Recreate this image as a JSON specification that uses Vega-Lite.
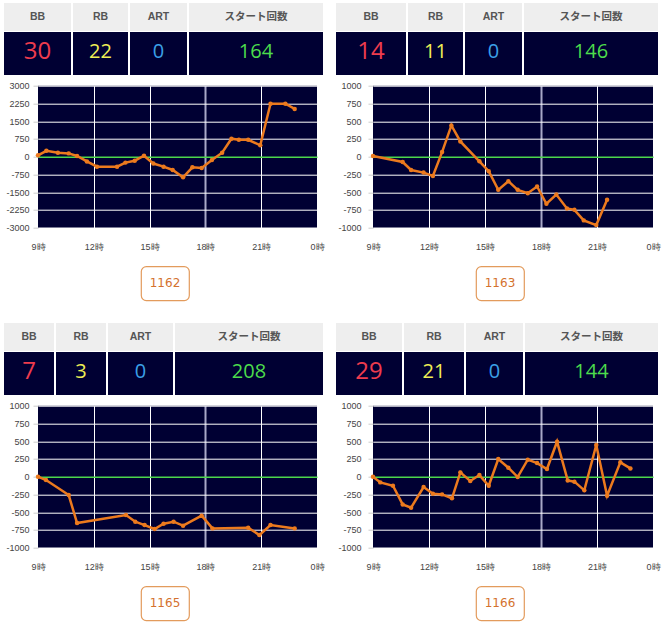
{
  "$schema": "https://vega.github.io/schema/vega-lite/v6.json",
  "padding": {"left": 4, "top": 3, "right": 2, "bottom": 2},
  "background": "#ffffff",
  "datasets": {
    "s1": [{"BB": 30, "RB": 22, "ART": 0, "start": 164, "no": "1162"}],
    "s2": [{"BB": 14, "RB": 11, "ART": 0, "start": 146, "no": "1163"}],
    "s3": [{"BB": 7, "RB": 3, "ART": 0, "start": 208, "no": "1165"}],
    "s4": [{"BB": 29, "RB": 21, "ART": 0, "start": 144, "no": "1166"}],
    "p1": [{"h":9,"v":60},{"h":9.45,"v":250},{"h":10.07,"v":170},{"h":10.65,"v":140},{"h":11.1,"v":30},{"h":11.63,"v":-200},{"h":12.17,"v":-420},{"h":13.25,"v":-420},{"h":13.7,"v":-250},{"h":14.2,"v":-170},{"h":14.7,"v":40},{"h":15.2,"v":-290},{"h":15.75,"v":-420},{"h":16.24,"v":-560},{"h":16.8,"v":-870},{"h":17.3,"v":-450},{"h":17.8,"v":-480},{"h":18.35,"v":-140},{"h":18.9,"v":170},{"h":19.4,"v":760},{"h":19.8,"v":715},{"h":20.3,"v":715},{"h":20.95,"v":480},{"h":21.5,"v":2240},{"h":22.3,"v":2240},{"h":22.8,"v":2020}],
    "p2": [{"h":9,"v":10},{"h":10.59,"v":-75},{"h":11.04,"v":-187},{"h":11.71,"v":-224},{"h":12.21,"v":-271},{"h":12.7,"v":65},{"h":13.2,"v":440},{"h":13.68,"v":215},{"h":14.7,"v":-65},{"h":15.2,"v":-205},{"h":15.71,"v":-467},{"h":16.25,"v":-345},{"h":16.75,"v":-467},{"h":17.29,"v":-514},{"h":17.79,"v":-420},{"h":18.29,"v":-663},{"h":18.82,"v":-533},{"h":19.39,"v":-729},{"h":19.79,"v":-748},{"h":20.29,"v":-897},{"h":20.96,"v":-963},{"h":21.54,"v":-607}],
    "p3": [{"h":9,"v":0},{"h":9.43,"v":-47},{"h":10.65,"v":-258},{"h":11.1,"v":-653},{"h":13.73,"v":-540},{"h":14.23,"v":-634},{"h":14.73,"v":-681},{"h":15.27,"v":-737},{"h":15.75,"v":-662},{"h":16.29,"v":-634},{"h":16.8,"v":-690},{"h":17.8,"v":-549},{"h":18.38,"v":-728},{"h":20.3,"v":-718},{"h":20.9,"v":-822},{"h":21.5,"v":-681},{"h":22.8,"v":-728}],
    "p4": [{"h":9,"v":0},{"h":9.39,"v":-80},{"h":10.07,"v":-127},{"h":10.59,"v":-390},{"h":11.04,"v":-437},{"h":11.71,"v":-146},{"h":12.21,"v":-239},{"h":12.7,"v":-249},{"h":13.23,"v":-305},{"h":13.68,"v":61},{"h":14.21,"v":-61},{"h":14.7,"v":23},{"h":15.2,"v":-127},{"h":15.71,"v":249},{"h":16.25,"v":127},{"h":16.75,"v":-5},{"h":17.29,"v":240},{"h":17.79,"v":192},{"h":18.32,"v":108},{"h":18.86,"v":493},{"h":19.43,"v":-52},{"h":19.79,"v":-70},{"h":20.32,"v":-192},{"h":20.96,"v":446},{"h":21.54,"v":-268},{"h":22.25,"v":202},{"h":22.79,"v":117}]
  },
  "spacing": 11,
  "hconcat": [
    {
      "spacing": 22,
      "vconcat": [
        {
          "spacing": 13.3,
          "vconcat": [
            {
              "spacing": 6.7,
              "vconcat": [
                {
                  "spacing": 1,
                  "vconcat": [
                    {"spacing": 2, "hconcat": [
                      {"width": 67, "height": 28, "view": {"fill": "#eeeeee"}, "data": {"values": [{}]}, "mark": {"type": "text", "text": "BB", "font": "Liberation Sans", "fontSize": 10.5, "fontWeight": "bold", "color": "#555555"}, "encoding": {}},
                      {"width": 55, "height": 28, "view": {"fill": "#eeeeee"}, "data": {"values": [{}]}, "mark": {"type": "text", "text": "RB", "font": "Liberation Sans", "fontSize": 10.5, "fontWeight": "bold", "color": "#555555"}, "encoding": {}},
                      {"width": 57, "height": 28, "view": {"fill": "#eeeeee"}, "data": {"values": [{}]}, "mark": {"type": "text", "text": "ART", "font": "Liberation Sans", "fontSize": 10.5, "fontWeight": "bold", "color": "#555555"}, "encoding": {}},
                      {"width": 134, "height": 28, "view": {"fill": "#eeeeee"}, "data": {"values": [{}]}, "mark": {"type": "text", "text": "スタート回数", "font": "Noto Sans CJK JP", "fontSize": 10.5, "fontWeight": "bold", "color": "#555555"}, "encoding": {}}
                    ]},
                    {"spacing": 2, "hconcat": [
                      {"width": 67, "height": 43, "view": {"fill": "#000033"}, "data": {"name": "s1"}, "mark": {"type": "text", "font": "Open Sans", "fontSize": 24, "color": "#ee3c4e", "dy": -1.5}, "encoding": {"text": {"field": "BB", "type": "nominal"}}},
                      {"width": 55, "height": 43, "view": {"fill": "#000033"}, "data": {"name": "s1"}, "mark": {"type": "text", "font": "Open Sans", "fontSize": 20, "color": "#eeee55", "dy": -1.5}, "encoding": {"text": {"field": "RB", "type": "nominal"}}},
                      {"width": 57, "height": 43, "view": {"fill": "#000033"}, "data": {"name": "s1"}, "mark": {"type": "text", "font": "Open Sans", "fontSize": 20, "color": "#3ba0e8", "dy": -1.5}, "encoding": {"text": {"field": "ART", "type": "nominal"}}},
                      {"width": 134, "height": 43, "view": {"fill": "#000033"}, "data": {"name": "s1"}, "mark": {"type": "text", "font": "Open Sans", "fontSize": 20, "color": "#4cdc4c", "dy": -1.5}, "encoding": {"text": {"field": "start", "type": "nominal"}}}
                    ]}
                  ]
                },
                {"spacing": 0, "hconcat": [
                  {"width": 0.01, "height": 1, "data": {"values": []}, "mark": "text", "encoding": {}},
                  {
                    "width": 279, "height": 142,
                    "view": {"fill": "#000033"},
                    "data": {"name": "p1"},
                    "mark": {"type": "line", "color": "#ec7a1e", "strokeWidth": 2.5, "point": {"filled": true, "size": 20, "color": "#ec7a1e"}},
                    "encoding": {
                      "x": {"field": "h", "type": "quantitative", "scale": {"domain": [9, 24], "nice": false, "zero": false},
                        "axis": {"title": null, "values": [9, 12, 15, 18, 21, 24], "labelExpr": "(datum.value % 24) + '時'", "ticks": false, "tickSize": 0, "labelPadding": 15,
                          "gridColor": {"condition": {"test": "datum.value === 18", "value": "#a8a8c8"}, "value": "#ffffff"},
                          "gridWidth": {"condition": {"test": "datum.value === 18", "value": 2}, "value": 1},
                          "gridOpacity": {"condition": {"test": "datum.value === 9 || datum.value === 24", "value": 0}, "value": 1}}},
                      "y": {"field": "v", "type": "quantitative", "scale": {"domain": [-3000, 3000], "nice": false, "zero": false},
                        "axis": {"title": null, "values": [-3000, -2250, -1500, -750, 0, 750, 1500, 2250, 3000], "labelExpr": "'' + datum.value", "tickSize": 5, "tickColor": "#cccccc", "labelPadding": 4,
                          "gridColor": {"condition": {"test": "datum.value === 0", "value": "#4cd64c"}, "value": "#ffffff"},
                          "gridWidth": {"condition": {"test": "datum.value === 0", "value": 1.5}, "value": 1}}}
                    }
                  }
                ]}
              ]
            },
            {"spacing": 0, "hconcat": [
              {"width": 135.5, "height": 34, "data": {"values": []}, "mark": "text", "encoding": {}},
              {"width": 48, "height": 34, "view": {"fill": "#ffffff", "stroke": "#e39b5c", "strokeWidth": 1.2, "cornerRadius": 5}, "data": {"name": "s1"}, "mark": {"type": "text", "font": "DejaVu Sans", "fontSize": 12, "color": "#d4712e"}, "encoding": {"text": {"field": "no", "type": "nominal"}}}
            ]}
          ]
        },
        {
          "spacing": 13.3,
          "vconcat": [
            {
              "spacing": 6.7,
              "vconcat": [
                {
                  "spacing": 1,
                  "vconcat": [
                    {"spacing": 2, "hconcat": [
                      {"width": 50, "height": 28, "view": {"fill": "#eeeeee"}, "data": {"values": [{}]}, "mark": {"type": "text", "text": "BB", "font": "Liberation Sans", "fontSize": 10.5, "fontWeight": "bold", "color": "#555555"}, "encoding": {}},
                      {"width": 50, "height": 28, "view": {"fill": "#eeeeee"}, "data": {"values": [{}]}, "mark": {"type": "text", "text": "RB", "font": "Liberation Sans", "fontSize": 10.5, "fontWeight": "bold", "color": "#555555"}, "encoding": {}},
                      {"width": 65, "height": 28, "view": {"fill": "#eeeeee"}, "data": {"values": [{}]}, "mark": {"type": "text", "text": "ART", "font": "Liberation Sans", "fontSize": 10.5, "fontWeight": "bold", "color": "#555555"}, "encoding": {}},
                      {"width": 148, "height": 28, "view": {"fill": "#eeeeee"}, "data": {"values": [{}]}, "mark": {"type": "text", "text": "スタート回数", "font": "Noto Sans CJK JP", "fontSize": 10.5, "fontWeight": "bold", "color": "#555555"}, "encoding": {}}
                    ]},
                    {"spacing": 2, "hconcat": [
                      {"width": 50, "height": 43, "view": {"fill": "#000033"}, "data": {"name": "s3"}, "mark": {"type": "text", "font": "Open Sans", "fontSize": 24, "color": "#ee3c4e", "dy": -1.5}, "encoding": {"text": {"field": "BB", "type": "nominal"}}},
                      {"width": 50, "height": 43, "view": {"fill": "#000033"}, "data": {"name": "s3"}, "mark": {"type": "text", "font": "Open Sans", "fontSize": 20, "color": "#eeee55", "dy": -1.5}, "encoding": {"text": {"field": "RB", "type": "nominal"}}},
                      {"width": 65, "height": 43, "view": {"fill": "#000033"}, "data": {"name": "s3"}, "mark": {"type": "text", "font": "Open Sans", "fontSize": 20, "color": "#3ba0e8", "dy": -1.5}, "encoding": {"text": {"field": "ART", "type": "nominal"}}},
                      {"width": 148, "height": 43, "view": {"fill": "#000033"}, "data": {"name": "s3"}, "mark": {"type": "text", "font": "Open Sans", "fontSize": 20, "color": "#4cdc4c", "dy": -1.5}, "encoding": {"text": {"field": "start", "type": "nominal"}}}
                    ]}
                  ]
                },
                {"spacing": 0, "hconcat": [
                  {"width": 0.01, "height": 1, "data": {"values": []}, "mark": "text", "encoding": {}},
                  {
                    "width": 279, "height": 142,
                    "view": {"fill": "#000033"},
                    "data": {"name": "p3"},
                    "mark": {"type": "line", "color": "#ec7a1e", "strokeWidth": 2.5, "point": {"filled": true, "size": 20, "color": "#ec7a1e"}},
                    "encoding": {
                      "x": {"field": "h", "type": "quantitative", "scale": {"domain": [9, 24], "nice": false, "zero": false},
                        "axis": {"title": null, "values": [9, 12, 15, 18, 21, 24], "labelExpr": "(datum.value % 24) + '時'", "ticks": false, "tickSize": 0, "labelPadding": 15,
                          "gridColor": {"condition": {"test": "datum.value === 18", "value": "#a8a8c8"}, "value": "#ffffff"},
                          "gridWidth": {"condition": {"test": "datum.value === 18", "value": 2}, "value": 1},
                          "gridOpacity": {"condition": {"test": "datum.value === 9 || datum.value === 24", "value": 0}, "value": 1}}},
                      "y": {"field": "v", "type": "quantitative", "scale": {"domain": [-1000, 1000], "nice": false, "zero": false},
                        "axis": {"title": null, "values": [-1000, -750, -500, -250, 0, 250, 500, 750, 1000], "labelExpr": "'' + datum.value", "tickSize": 5, "tickColor": "#cccccc", "labelPadding": 4,
                          "gridColor": {"condition": {"test": "datum.value === 0", "value": "#4cd64c"}, "value": "#ffffff"},
                          "gridWidth": {"condition": {"test": "datum.value === 0", "value": 1.5}, "value": 1}}}
                    }
                  }
                ]}
              ]
            },
            {"spacing": 0, "hconcat": [
              {"width": 135.5, "height": 34, "data": {"values": []}, "mark": "text", "encoding": {}},
              {"width": 48, "height": 34, "view": {"fill": "#ffffff", "stroke": "#e39b5c", "strokeWidth": 1.2, "cornerRadius": 5}, "data": {"name": "s3"}, "mark": {"type": "text", "font": "DejaVu Sans", "fontSize": 12, "color": "#d4712e"}, "encoding": {"text": {"field": "no", "type": "nominal"}}}
            ]}
          ]
        }
      ]
    },
    {
      "spacing": 22,
      "vconcat": [
        {
          "spacing": 13.3,
          "vconcat": [
            {
              "spacing": 6.7,
              "vconcat": [
                {
                  "spacing": 1,
                  "vconcat": [
                    {"spacing": 2, "hconcat": [
                      {"width": 70, "height": 28, "view": {"fill": "#eeeeee"}, "data": {"values": [{}]}, "mark": {"type": "text", "text": "BB", "font": "Liberation Sans", "fontSize": 10.5, "fontWeight": "bold", "color": "#555555"}, "encoding": {}},
                      {"width": 55, "height": 28, "view": {"fill": "#eeeeee"}, "data": {"values": [{}]}, "mark": {"type": "text", "text": "RB", "font": "Liberation Sans", "fontSize": 10.5, "fontWeight": "bold", "color": "#555555"}, "encoding": {}},
                      {"width": 57, "height": 28, "view": {"fill": "#eeeeee"}, "data": {"values": [{}]}, "mark": {"type": "text", "text": "ART", "font": "Liberation Sans", "fontSize": 10.5, "fontWeight": "bold", "color": "#555555"}, "encoding": {}},
                      {"width": 134, "height": 28, "view": {"fill": "#eeeeee"}, "data": {"values": [{}]}, "mark": {"type": "text", "text": "スタート回数", "font": "Noto Sans CJK JP", "fontSize": 10.5, "fontWeight": "bold", "color": "#555555"}, "encoding": {}}
                    ]},
                    {"spacing": 2, "hconcat": [
                      {"width": 70, "height": 43, "view": {"fill": "#000033"}, "data": {"name": "s2"}, "mark": {"type": "text", "font": "Open Sans", "fontSize": 24, "color": "#ee3c4e", "dy": -1.5}, "encoding": {"text": {"field": "BB", "type": "nominal"}}},
                      {"width": 55, "height": 43, "view": {"fill": "#000033"}, "data": {"name": "s2"}, "mark": {"type": "text", "font": "Open Sans", "fontSize": 20, "color": "#eeee55", "dy": -1.5}, "encoding": {"text": {"field": "RB", "type": "nominal"}}},
                      {"width": 57, "height": 43, "view": {"fill": "#000033"}, "data": {"name": "s2"}, "mark": {"type": "text", "font": "Open Sans", "fontSize": 20, "color": "#3ba0e8", "dy": -1.5}, "encoding": {"text": {"field": "ART", "type": "nominal"}}},
                      {"width": 134, "height": 43, "view": {"fill": "#000033"}, "data": {"name": "s2"}, "mark": {"type": "text", "font": "Open Sans", "fontSize": 20, "color": "#4cdc4c", "dy": -1.5}, "encoding": {"text": {"field": "start", "type": "nominal"}}}
                    ]}
                  ]
                },
                {"spacing": 0, "hconcat": [
                  {"width": 0.01, "height": 1, "data": {"values": []}, "mark": "text", "encoding": {}},
                  {
                    "width": 280, "height": 142,
                    "view": {"fill": "#000033"},
                    "data": {"name": "p2"},
                    "mark": {"type": "line", "color": "#ec7a1e", "strokeWidth": 2.5, "point": {"filled": true, "size": 20, "color": "#ec7a1e"}},
                    "encoding": {
                      "x": {"field": "h", "type": "quantitative", "scale": {"domain": [9, 24], "nice": false, "zero": false},
                        "axis": {"title": null, "values": [9, 12, 15, 18, 21, 24], "labelExpr": "(datum.value % 24) + '時'", "ticks": false, "tickSize": 0, "labelPadding": 15,
                          "gridColor": {"condition": {"test": "datum.value === 18", "value": "#a8a8c8"}, "value": "#ffffff"},
                          "gridWidth": {"condition": {"test": "datum.value === 18", "value": 2}, "value": 1},
                          "gridOpacity": {"condition": {"test": "datum.value === 9 || datum.value === 24", "value": 0}, "value": 1}}},
                      "y": {"field": "v", "type": "quantitative", "scale": {"domain": [-1000, 1000], "nice": false, "zero": false},
                        "axis": {"title": null, "values": [-1000, -750, -500, -250, 0, 250, 500, 750, 1000], "labelExpr": "'' + datum.value", "tickSize": 5, "tickColor": "#cccccc", "labelPadding": 7,
                          "gridColor": {"condition": {"test": "datum.value === 0", "value": "#4cd64c"}, "value": "#ffffff"},
                          "gridWidth": {"condition": {"test": "datum.value === 0", "value": 1.5}, "value": 1}}}
                    }
                  }
                ]}
              ]
            },
            {"spacing": 0, "hconcat": [
              {"width": 139, "height": 34, "data": {"values": []}, "mark": "text", "encoding": {}},
              {"width": 48, "height": 34, "view": {"fill": "#ffffff", "stroke": "#e39b5c", "strokeWidth": 1.2, "cornerRadius": 5}, "data": {"name": "s2"}, "mark": {"type": "text", "font": "DejaVu Sans", "fontSize": 12, "color": "#d4712e"}, "encoding": {"text": {"field": "no", "type": "nominal"}}}
            ]}
          ]
        },
        {
          "spacing": 13.3,
          "vconcat": [
            {
              "spacing": 6.7,
              "vconcat": [
                {
                  "spacing": 1,
                  "vconcat": [
                    {"spacing": 2, "hconcat": [
                      {"width": 66, "height": 28, "view": {"fill": "#eeeeee"}, "data": {"values": [{}]}, "mark": {"type": "text", "text": "BB", "font": "Liberation Sans", "fontSize": 10.5, "fontWeight": "bold", "color": "#555555"}, "encoding": {}},
                      {"width": 60, "height": 28, "view": {"fill": "#eeeeee"}, "data": {"values": [{}]}, "mark": {"type": "text", "text": "RB", "font": "Liberation Sans", "fontSize": 10.5, "fontWeight": "bold", "color": "#555555"}, "encoding": {}},
                      {"width": 57, "height": 28, "view": {"fill": "#eeeeee"}, "data": {"values": [{}]}, "mark": {"type": "text", "text": "ART", "font": "Liberation Sans", "fontSize": 10.5, "fontWeight": "bold", "color": "#555555"}, "encoding": {}},
                      {"width": 133, "height": 28, "view": {"fill": "#eeeeee"}, "data": {"values": [{}]}, "mark": {"type": "text", "text": "スタート回数", "font": "Noto Sans CJK JP", "fontSize": 10.5, "fontWeight": "bold", "color": "#555555"}, "encoding": {}}
                    ]},
                    {"spacing": 2, "hconcat": [
                      {"width": 66, "height": 43, "view": {"fill": "#000033"}, "data": {"name": "s4"}, "mark": {"type": "text", "font": "Open Sans", "fontSize": 24, "color": "#ee3c4e", "dy": -1.5}, "encoding": {"text": {"field": "BB", "type": "nominal"}}},
                      {"width": 60, "height": 43, "view": {"fill": "#000033"}, "data": {"name": "s4"}, "mark": {"type": "text", "font": "Open Sans", "fontSize": 20, "color": "#eeee55", "dy": -1.5}, "encoding": {"text": {"field": "RB", "type": "nominal"}}},
                      {"width": 57, "height": 43, "view": {"fill": "#000033"}, "data": {"name": "s4"}, "mark": {"type": "text", "font": "Open Sans", "fontSize": 20, "color": "#3ba0e8", "dy": -1.5}, "encoding": {"text": {"field": "ART", "type": "nominal"}}},
                      {"width": 133, "height": 43, "view": {"fill": "#000033"}, "data": {"name": "s4"}, "mark": {"type": "text", "font": "Open Sans", "fontSize": 20, "color": "#4cdc4c", "dy": -1.5}, "encoding": {"text": {"field": "start", "type": "nominal"}}}
                    ]}
                  ]
                },
                {"spacing": 0, "hconcat": [
                  {"width": 0.01, "height": 1, "data": {"values": []}, "mark": "text", "encoding": {}},
                  {
                    "width": 280, "height": 142,
                    "view": {"fill": "#000033"},
                    "data": {"name": "p4"},
                    "mark": {"type": "line", "color": "#ec7a1e", "strokeWidth": 2.5, "point": {"filled": true, "size": 20, "color": "#ec7a1e"}},
                    "encoding": {
                      "x": {"field": "h", "type": "quantitative", "scale": {"domain": [9, 24], "nice": false, "zero": false},
                        "axis": {"title": null, "values": [9, 12, 15, 18, 21, 24], "labelExpr": "(datum.value % 24) + '時'", "ticks": false, "tickSize": 0, "labelPadding": 15,
                          "gridColor": {"condition": {"test": "datum.value === 18", "value": "#a8a8c8"}, "value": "#ffffff"},
                          "gridWidth": {"condition": {"test": "datum.value === 18", "value": 2}, "value": 1},
                          "gridOpacity": {"condition": {"test": "datum.value === 9 || datum.value === 24", "value": 0}, "value": 1}}},
                      "y": {"field": "v", "type": "quantitative", "scale": {"domain": [-1000, 1000], "nice": false, "zero": false},
                        "axis": {"title": null, "values": [-1000, -750, -500, -250, 0, 250, 500, 750, 1000], "labelExpr": "'' + datum.value", "tickSize": 5, "tickColor": "#cccccc", "labelPadding": 7,
                          "gridColor": {"condition": {"test": "datum.value === 0", "value": "#4cd64c"}, "value": "#ffffff"},
                          "gridWidth": {"condition": {"test": "datum.value === 0", "value": 1.5}, "value": 1}}}
                    }
                  }
                ]}
              ]
            },
            {"spacing": 0, "hconcat": [
              {"width": 139, "height": 34, "data": {"values": []}, "mark": "text", "encoding": {}},
              {"width": 48, "height": 34, "view": {"fill": "#ffffff", "stroke": "#e39b5c", "strokeWidth": 1.2, "cornerRadius": 5}, "data": {"name": "s4"}, "mark": {"type": "text", "font": "DejaVu Sans", "fontSize": 12, "color": "#d4712e"}, "encoding": {"text": {"field": "no", "type": "nominal"}}}
            ]}
          ]
        }
      ]
    }
  ],
  "config": {
    "view": {"stroke": null},
    "axis": {"labelFont": "Liberation Sans", "labelFontSize": 9, "labelColor": "#444444", "domain": false, "labelFlush": false, "labelOverlap": false}
  }
}
